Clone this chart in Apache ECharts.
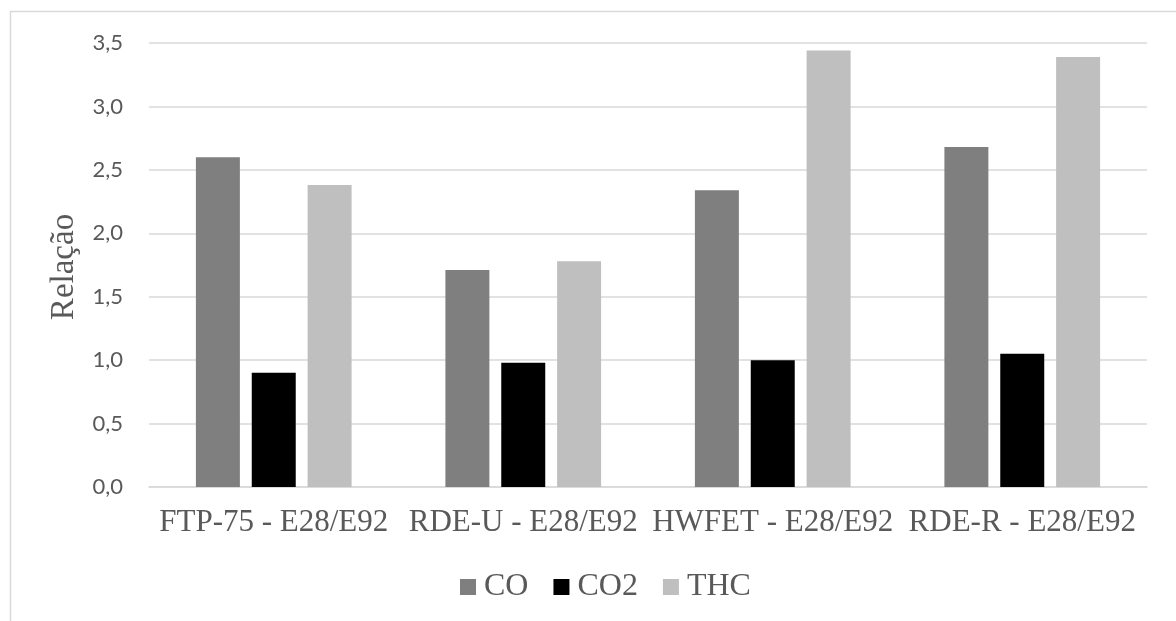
<!DOCTYPE html>
<html>
<head>
<meta charset="utf-8">
<script src="https://cdn.jsdelivr.net/npm/echarts@6/dist/echarts.min.js"></script>
<style>
  html, body { margin: 0; padding: 0; background: #ffffff; }
  #chart { width: 1176px; height: 621px; }
</style>
</head>
<body>
<div id="chart"></div>
<script>
// Ratio E28/E92 per driving cycle
const categories = ['FTP-75 - E28/E92', 'RDE-U - E28/E92', 'HWFET - E28/E92', 'RDE-R - E28/E92'];
const coValues  = [2.60, 1.71, 2.34, 2.68];
const co2Values = [0.90, 0.98, 1.00, 1.05];
const thcValues = [2.38, 1.78, 3.44, 3.39];
const seriesNames = ['CO', 'CO2', 'THC'];
const seriesColors = ['#7f7f7f', '#000000', '#bfbfbf'];
const yAxisTitle = 'Relação';

const chart = echarts.init(document.getElementById('chart'), null, { renderer: 'canvas' });

const serif = '"Liberation Serif", "DejaVu Serif", serif';
const sans = 'Lato, "Open Sans", "Liberation Sans", sans-serif';

function barSeries(name, data, color) {
  return {
    name: name,
    type: 'bar',
    data: data,
    barGap: '27%',
    barCategoryGap: '37.6%',
    itemStyle: { color: color },
    emphasis: { disabled: true }
  };
}

chart.setOption({
  animation: false,
  backgroundColor: '#ffffff',
  graphic: [
    {
      type: 'rect',
      shape: { x: 10.5, y: 11.5, width: 1180, height: 640 },
      style: { fill: 'none', stroke: '#d9d9d9', lineWidth: 1.5 },
      silent: true
    },
    {
      // vertical axis title
      type: 'text',
      x: 64,
      y: 267,
      rotation: Math.PI / 2,
      style: {
        text: yAxisTitle,
        font: '33px "Liberation Serif", "DejaVu Serif", serif',
        fill: '#595959',
        textAlign: 'center',
        textVerticalAlign: 'middle'
      },
      silent: true
    }
  ],
  grid: { left: 149, right: 29, top: 43, bottom: 134, containLabel: false },
  legend: {
    data: seriesNames,
    top: 566,
    left: 455,
    icon: 'rect',
    itemWidth: 16,
    itemHeight: 16,
    itemGap: 25,
    textStyle: { fontFamily: serif, fontSize: 32, color: '#595959', padding: [0, 0, 0, 3] }
  },
  xAxis: {
    type: 'category',
    data: categories,
    axisLine: { show: true, lineStyle: { color: '#d9d9d9', width: 1.5 } },
    axisTick: { show: false },
    axisLabel: { interval: 0, fontFamily: serif, fontSize: 31, color: '#595959', margin: 20 }
  },
  yAxis: {
    type: 'value',
    min: 0,
    max: 3.5,
    interval: 0.5,
    axisLine: { show: false },
    axisTick: { show: false },
    splitLine: { lineStyle: { color: '#d9d9d9', width: 1.5 } },
    axisLabel: {
      fontFamily: sans,
      fontSize: 22,
      color: '#595959',
      margin: 26,
      formatter: v => v.toFixed(1).replace('.', ',')
    }
  },
  series: [
    barSeries(seriesNames[0], coValues, seriesColors[0]),
    barSeries(seriesNames[1], co2Values, seriesColors[1]),
    barSeries(seriesNames[2], thcValues, seriesColors[2])
  ]
});
</script>
</body>
</html>
